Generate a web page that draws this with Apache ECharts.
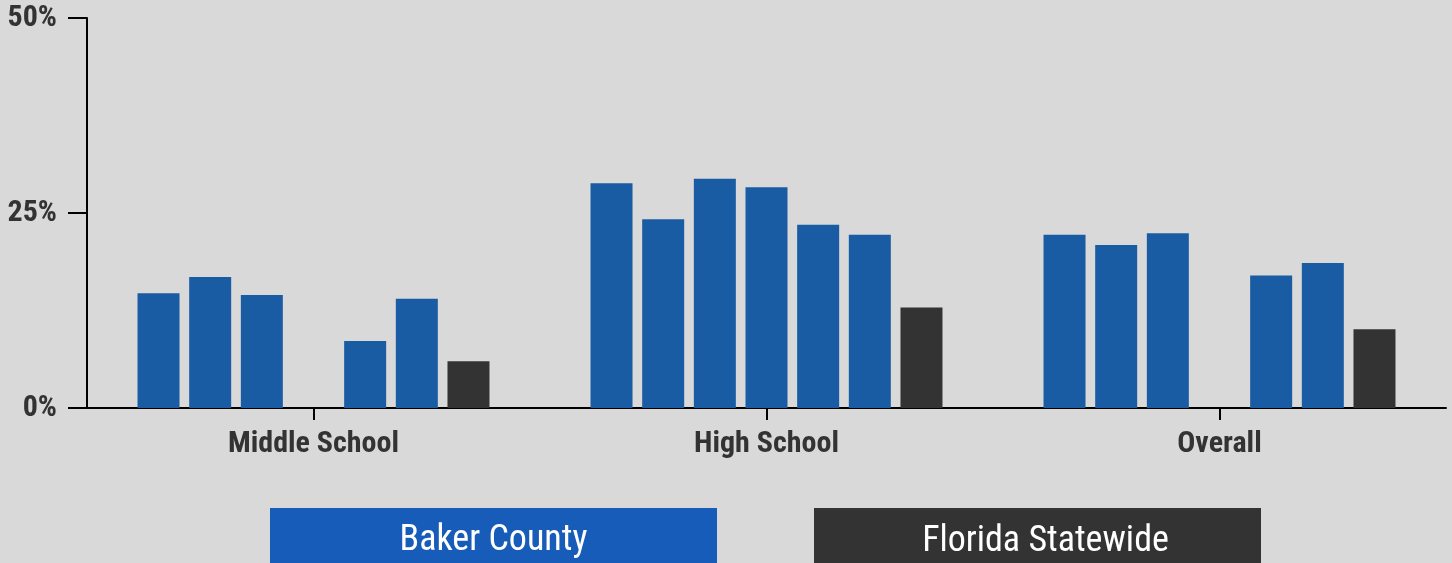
<!DOCTYPE html>
<html>
<head>
<meta charset="utf-8">
<script src="https://cdn.jsdelivr.net/npm/echarts@6/dist/echarts.min.js"></script>
<style>
html,body{margin:0;padding:0;background:#d9d9d9;}
#chart{width:1452px;height:563px;}
</style>
</head>
<body>
<div id="chart"></div>
<script>
const categories = ['Middle School', 'High School', 'Overall'];
// Baker County bars (six groups, one per survey wave), values in %
const baker1 = [14.7, 28.8, 22.2];
const baker2 = [16.8, 24.2, 20.9];
const baker3 = [14.5, 29.4, 22.4];
const baker4 = [null, 28.3, null];
const baker5 = [8.6, 23.5, 17.0];
const baker6 = [14.0, 22.2, 18.6];
const florida = [6.0, 12.9, 10.1];
const yTicks = [0, 25, 50];

const FONT = "'Roboto Condensed', 'Liberation Sans Narrow', Roboto, sans-serif";
const BLUE = '#1a5ca3';
const DARK = '#333333';

const bakerSets = [baker1, baker2, baker3, baker4, baker5, baker6];
const series = bakerSets.map(d => ({
  name: 'Baker County',
  type: 'bar',
  data: d,
  barWidth: 42,
  barGap: '23%',
  itemStyle: {color: BLUE},
  emphasis: {disabled: true}
}));
series.push({
  name: 'Florida Statewide',
  type: 'bar',
  data: florida,
  barWidth: 42,
  barGap: '23%',
  itemStyle: {color: DARK},
  emphasis: {disabled: true}
});

const chart = echarts.init(document.getElementById('chart'), null, {renderer: 'canvas'});
chart.setOption({
  backgroundColor: '#d9d9d9',
  animation: false,
  grid: {left: 87, right: 6, top: 18, bottom: 155, containLabel: false},
  legend: {
    left: 265,
    top: 508,
    padding: 0,
    itemWidth: 0,
    itemHeight: 60,
    itemGap: 92,
    icon: 'rect',
    selectedMode: false,
    data: ['Baker County', 'Florida Statewide'],
    formatter: function (name) {
      return name === 'Baker County' ? '{a|' + name + '}' : '{b|' + name + '}';
    },
    textStyle: {
      rich: {
        a: {width: 447, height: 54, lineHeight: 54, padding: [6, 0, 0, 0], align: 'center', backgroundColor: '#185cb9', color: '#ffffff', fontSize: 36, fontFamily: FONT},
        b: {width: 431, height: 52, lineHeight: 52, padding: [8, 0, 0, 16], align: 'center', backgroundColor: DARK, color: '#ffffff', fontSize: 36, fontFamily: FONT}
      }
    }
  },
  xAxis: {
    type: 'category',
    data: categories,
    axisLine: {lineStyle: {color: '#000', width: 2}},
    axisTick: {show: true, alignWithLabel: true, length: 12, lineStyle: {color: '#000', width: 2}},
    axisLabel: {margin: 21, color: DARK, fontWeight: 'bold', fontSize: 30, fontFamily: FONT}
  },
  yAxis: {
    type: 'value',
    min: yTicks[0],
    max: yTicks[yTicks.length - 1],
    interval: 25,
    splitLine: {show: false},
    axisLine: {show: true, lineStyle: {color: '#000', width: 2}},
    axisTick: {show: true, length: 19, lineStyle: {color: '#000', width: 2}},
    axisLabel: {margin: 30, color: DARK, fontWeight: 'bold', fontSize: 30, fontFamily: FONT, formatter: '{value}%'}
  },
  series: series
});
</script>
</body>
</html>
